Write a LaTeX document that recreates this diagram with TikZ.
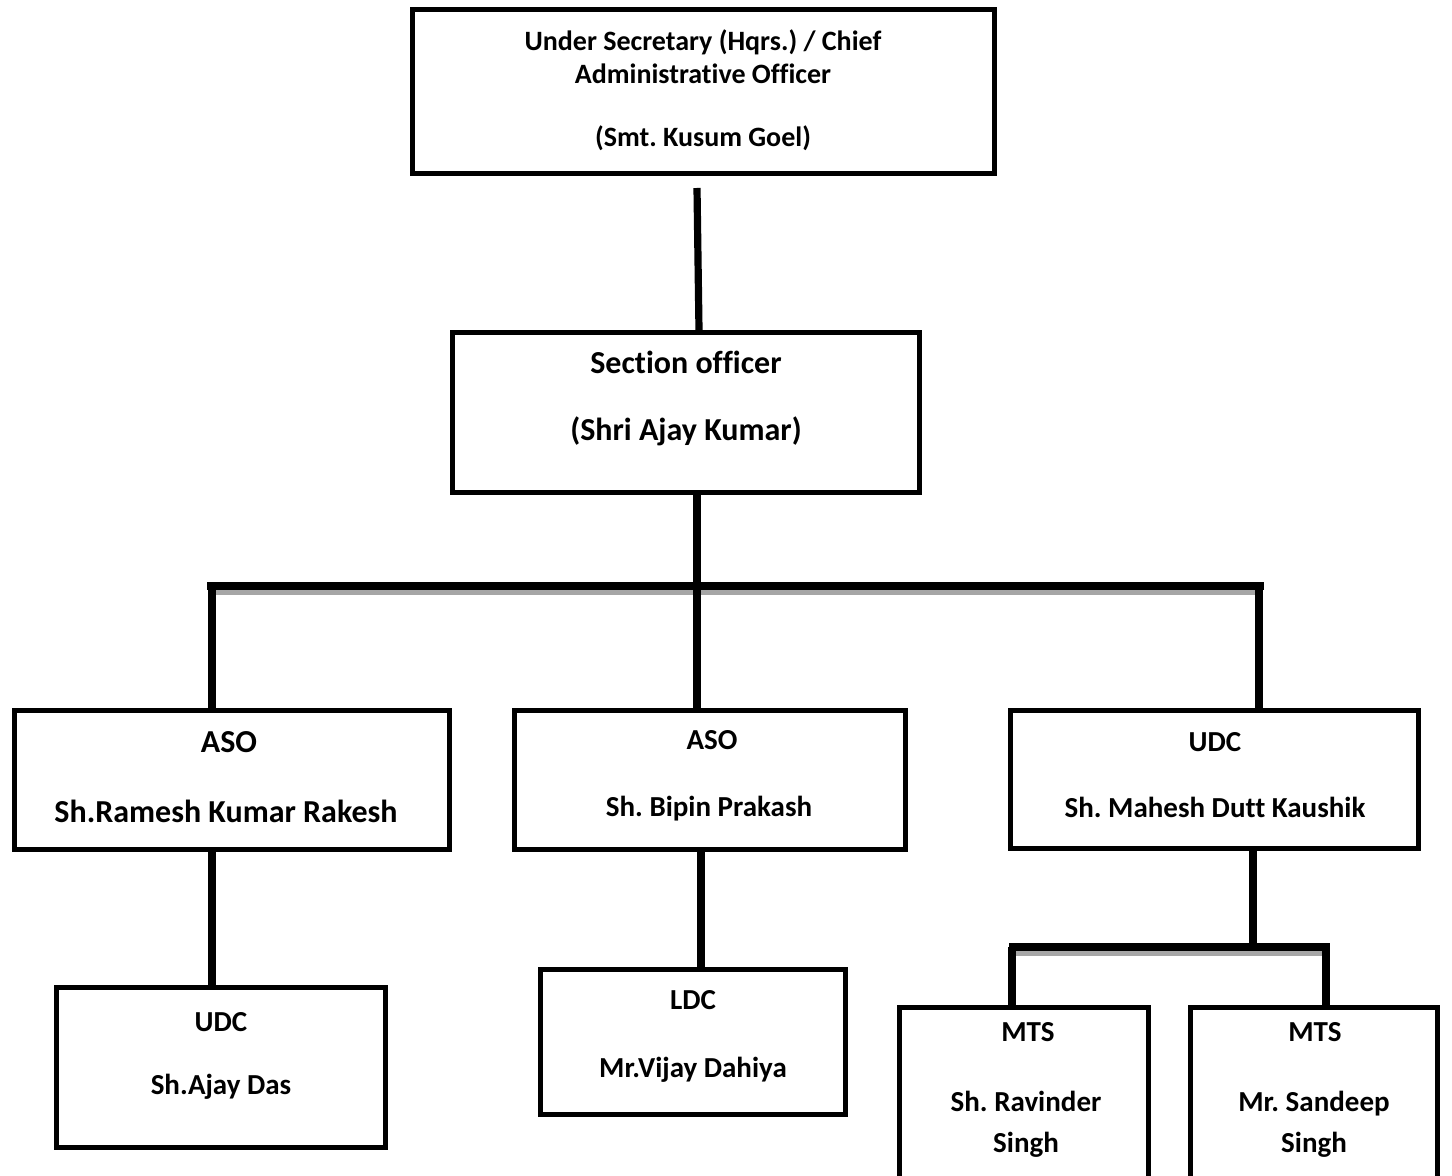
\documentclass[tikz,border=0pt]{standalone}
\usepackage{fontspec}
\setmainfont{Carlito}[Ligatures=CommonOff]
\frenchspacing
\begin{document}
\frenchspacing
\begin{tikzpicture}[x=0.5pt,y=-0.5pt,
  box/.style={draw, line width=2.6pt, inner sep=0pt},
  conn/.style={line width=3.6pt, line cap=butt},
  shade/.style={line width=2.5pt, draw=black!35, line cap=butt},
  fA/.style={font=\fontsize{14}{17}\selectfont\bfseries\frenchspacing, text height=9pt},
  fB/.style={font=\fontsize{14.5}{17.5}\selectfont\bfseries\frenchspacing, text height=9.3pt},
  fC/.style={font=\fontsize{16}{19}\selectfont\bfseries\frenchspacing, text height=10.3pt},
  lbl/.style={inner sep=0pt, text depth=0pt, anchor=center},
]
\useasboundingbox (0,0) rectangle (1452,1176);
\clip (0,0) rectangle (1452,1176);

% boxes
\node[box, minimum width=291pt, minimum height=82pt] (top) at (703.5,91.5) {};
\node[box, minimum width=233.5pt, minimum height=80pt] (so) at (686,412.5) {};
\node[box, minimum width=217.5pt, minimum height=69.5pt] (aso1) at (232,780) {};
\node[box, minimum width=195.5pt, minimum height=69.5pt] (aso2) at (710,780) {};
\node[box, minimum width=204pt, minimum height=69pt] (udc1) at (1214.5,779.5) {};
\node[box, minimum width=164.5pt, minimum height=80pt] (udc2) at (221,1067.5) {};
\node[box, minimum width=152.5pt, minimum height=72.5pt] (ldc) at (693,1042) {};
\node[box, minimum width=124.5pt, minimum height=92.5pt] (mts1) at (1024,1100) {};
\node[box, minimum width=123.5pt, minimum height=92.5pt] (mts2) at (1314,1100) {};

% labels
\node[lbl,fA] (t1) at (703,42) {Under Secretary (Hqrs.) / Chief};
\node[lbl,fA] (t2) at (703,75) {Administrative Officer};
\node[lbl,fA] (t3) at (703,138) {(Smt. Kusum Goel)};
\node[lbl,fC] (s1) at (686,363) {Section officer};
\node[lbl,fC] (s2) at (686,430) {(Shri Ajay Kumar)};
\node[lbl,fC] (a1) at (229,742) {ASO};
\node[lbl,fC] (a2) at (226,812) {Sh.Ramesh Kumar Rakesh};
\node[lbl,fB] (b1) at (712,740) {ASO};
\node[lbl,fB] (b2) at (709,807) {Sh. Bipin Prakash};
\node[lbl,fB] (u1) at (1215,742) {UDC};
\node[lbl,fB] (u2) at (1215,808) {Sh. Mahesh Dutt Kaushik};
\node[lbl,fB] (d1) at (221,1022) {UDC};
\node[lbl,fB] (d2) at (221,1085) {Sh.Ajay Das};
\node[lbl,fB] (l1) at (693,1000) {LDC};
\node[lbl,fB] (l2) at (693,1068) {Mr.Vijay Dahiya};
\node[lbl,fB] (m1) at (1028,1032) {MTS};
\node[lbl,fB] (m2) at (1026,1102) {Sh. Ravinder};
\node[lbl,fB] (m3) at (1026,1143) {Singh};
\node[lbl,fB] (n1) at (1315,1032) {MTS};
\node[lbl,fB] (n2) at (1314,1102) {Mr. Sandeep};
\node[lbl,fB] (n3) at (1314,1143) {Singh};

% connector coordinates
\coordinate (c0) at (697,188);
\coordinate (x699) at (699,0);
\coordinate (x697) at (697,0);
\coordinate (x212) at (212,0);
\coordinate (x1259) at (1259,0);
\coordinate (x701) at (701,0);
\coordinate (x1253) at (1253,0);
\coordinate (x1012) at (1012,0);
\coordinate (x1326) at (1326,0);
\coordinate (barL) at (207,586);
\coordinate (barR) at (1264,586);
\coordinate (shL) at (213,592.5);
\coordinate (shR) at (1258,592.5);
\coordinate (bar2L) at (1009,947);
\coordinate (bar2R) at (1330,947);
\coordinate (sh2L) at (1016,953);
\coordinate (sh2R) at (1323,953);

% top to section officer
\draw[conn] (c0) -- (x699 |- so.north);
% section officer to main bar
\draw[shade] (shL) -- (shR);
\draw[conn] (barL) -- (barR);
\draw[conn] (x697 |- so.south) -- (x697 |- barL);
\draw[conn] (x212 |- barL) -- (x212 |- aso1.north);
\draw[conn] (x697 |- barL) -- (x697 |- aso2.north);
\draw[conn] (x1259 |- barL) -- (x1259 |- udc1.north);
% second level
\draw[conn] (x212 |- aso1.south) -- (x212 |- udc2.north);
\draw[conn] (x701 |- aso2.south) -- (x701 |- ldc.north);
\draw[conn] (x1253 |- udc1.south) -- (x1253 |- bar2L);
\draw[shade] (sh2L) -- (sh2R);
\draw[conn] (bar2L) -- (bar2R);
\draw[conn] (x1012 |- bar2L) -- (x1012 |- mts1.north);
\draw[conn] (x1326 |- bar2L) -- (x1326 |- mts2.north);
\end{tikzpicture}
\end{document}
